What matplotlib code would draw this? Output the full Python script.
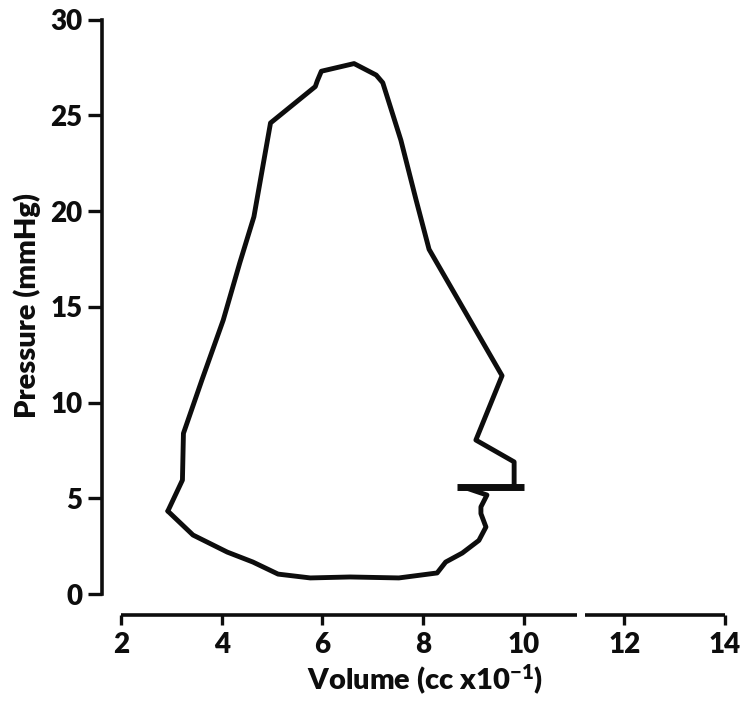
import matplotlib.pyplot as plt

plt.rcParams['font.family'] = ['Lato', 'DejaVu Sans']
plt.rcParams['font.weight'] = 'heavy'
plt.rcParams['mathtext.fontset'] = 'custom'
plt.rcParams['mathtext.rm'] = 'Lato:heavy'
plt.rcParams['mathtext.default'] = 'rm'

# pressure-volume loop, lower limb (filling) from the leftmost point
vol_low = [2.93, 3.43, 4.11, 4.62, 5.12, 5.76, 6.55, 7.52, 8.28, 8.45,
           8.78, 9.11, 9.25, 9.15, 9.15, 9.27, 8.90]
pres_low = [4.33, 3.08, 2.19, 1.67, 1.04, 0.84, 0.89, 0.84, 1.10, 1.67,
            2.14, 2.80, 3.50, 4.20, 4.55, 5.17, 5.50]

# upper limb (ejection and relaxation) back to the leftmost point
vol_up = [9.81, 9.81, 9.05, 9.57, 8.12, 7.86, 7.56, 7.20, 7.07, 6.63,
          5.98, 5.90, 5.86, 4.97, 4.64, 4.36, 4.03, 3.61, 3.24, 3.22, 2.93]
pres_up = [5.60, 6.90, 8.04, 11.4, 18.0, 20.6, 23.7, 26.7, 27.1, 27.7,
           27.3, 26.8, 26.5, 24.6, 19.7, 17.3, 14.3, 11.2, 8.39, 5.95, 4.33]

# end-diastolic marker
bar_vol = [8.68, 10.0]
bar_pres = [5.57, 5.57]

x_ticks = [2, 4, 6, 8, 10, 12, 14]
y_ticks = [0, 5, 10, 15, 20, 25, 30]

W, H = 742, 701
fig = plt.figure(figsize=(W / 100, H / 100), dpi=100)
ax = fig.add_axes([101.9 / W, (H - 617) / H, (735.1 - 101.9) / W, (617 - 15.7) / H])
ax.set_xlim(1.62, 14.2)
ax.set_ylim(-1.2, 30.2)

ink = '#0d0d0d'
ax.plot(vol_low, pres_low, color=ink, lw=3.5, solid_joinstyle='round', solid_capstyle='round')
ax.plot(vol_up, pres_up, color=ink, lw=3.5, solid_joinstyle='round', solid_capstyle='round')
ax.plot(bar_vol, bar_pres, color=ink, lw=5, solid_capstyle='butt')

# axes: left spine 0-30, bottom axis offset below with a small break after 11
for s in ['top', 'right']:
    ax.spines[s].set_visible(False)
ax.spines['left'].set_bounds(0, 30)
ax.spines['left'].set_linewidth(2.6)
ax.spines['left'].set_color(ink)
ax.spines['bottom'].set_position(('data', -1.1))
ax.spines['bottom'].set_visible(False)
ax.plot([2, 11.05], [-1.1, -1.1], color=ink, lw=2.6, clip_on=False, solid_capstyle='butt')
ax.plot([11.22, 14], [-1.1, -1.1], color=ink, lw=2.6, clip_on=False, solid_capstyle='butt')

ax.set_xticks(x_ticks)
ax.set_yticks(y_ticks)
ax.tick_params(axis='y', direction='out', length=10, width=2.4, pad=4,
               labelsize=20, colors=ink)
ax.tick_params(axis='x', direction='out', length=7, width=2.4, pad=5,
               labelsize=20, colors=ink)

fig.text(27 / W, 1 - 305 / H, 'Pressure (mmHg)', rotation=90, ha='center', va='center',
         fontsize=21, fontweight='heavy', color=ink)
fig.text(425 / W, 1 - 680 / H, 'Volume (cc x10$^{-1}$)', ha='center', va='center',
         fontsize=21, fontweight='heavy', color=ink)

fig.savefig('out.png', dpi=100, facecolor='white')
